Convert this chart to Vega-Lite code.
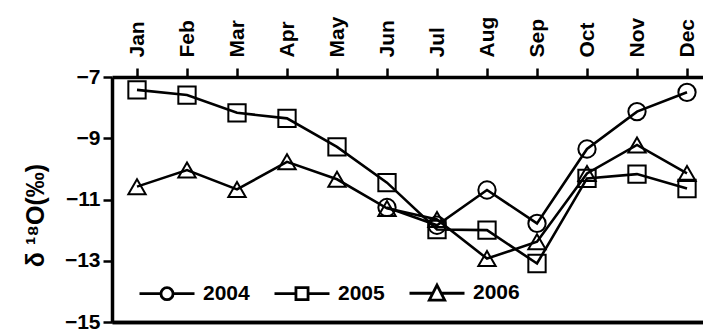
{
  "$schema": "https://vega.github.io/schema/vega-lite/v6.json",
  "width": 591,
  "height": 245,
  "autosize": "none",
  "padding": {"left": 112, "top": 77, "right": 0, "bottom": 7},
  "background": "white",
  "config": {
    "view": {"stroke": null},
    "font": "Liberation Sans",
    "axis": {
      "labelFont": "Liberation Sans",
      "labelFontWeight": "bold",
      "labelColor": "black",
      "titleColor": "black",
      "domainColor": "black",
      "tickColor": "black",
      "grid": false
    }
  },
  "data": {
    "values": [
      {"year": 2004, "month": "Jun", "d18O": -11.26},
      {"year": 2004, "month": "Jul", "d18O": -11.84},
      {"year": 2004, "month": "Aug", "d18O": -10.69},
      {"year": 2004, "month": "Sep", "d18O": -11.78},
      {"year": 2004, "month": "Oct", "d18O": -9.35},
      {"year": 2004, "month": "Nov", "d18O": -8.13},
      {"year": 2004, "month": "Dec", "d18O": -7.5},
      {"year": 2005, "month": "Jan", "d18O": -7.42},
      {"year": 2005, "month": "Feb", "d18O": -7.59},
      {"year": 2005, "month": "Mar", "d18O": -8.17},
      {"year": 2005, "month": "Apr", "d18O": -8.35},
      {"year": 2005, "month": "May", "d18O": -9.28},
      {"year": 2005, "month": "Jun", "d18O": -10.45},
      {"year": 2005, "month": "Jul", "d18O": -11.98},
      {"year": 2005, "month": "Aug", "d18O": -12.0},
      {"year": 2005, "month": "Sep", "d18O": -13.09},
      {"year": 2005, "month": "Oct", "d18O": -10.31},
      {"year": 2005, "month": "Nov", "d18O": -10.17},
      {"year": 2005, "month": "Dec", "d18O": -10.64},
      {"year": 2006, "month": "Jan", "d18O": -10.58},
      {"year": 2006, "month": "Feb", "d18O": -10.04},
      {"year": 2006, "month": "Mar", "d18O": -10.67},
      {"year": 2006, "month": "Apr", "d18O": -9.77},
      {"year": 2006, "month": "May", "d18O": -10.34},
      {"year": 2006, "month": "Jun", "d18O": -11.29},
      {"year": 2006, "month": "Jul", "d18O": -11.65},
      {"year": 2006, "month": "Aug", "d18O": -12.93},
      {"year": 2006, "month": "Sep", "d18O": -12.38},
      {"year": 2006, "month": "Oct", "d18O": -10.15},
      {"year": 2006, "month": "Nov", "d18O": -9.22},
      {"year": 2006, "month": "Dec", "d18O": -10.15}
    ]
  },
  "resolve": {"scale": {"shape": "independent"}},
  "layer": [
    {
      "mark": {"type": "line", "color": "black", "strokeWidth": 2.6},
      "encoding": {
        "x": {
          "field": "month", "type": "ordinal",
          "sort": ["Jan","Feb","Mar","Apr","May","Jun","Jul","Aug","Sep","Oct","Nov","Dec"],
          "scale": {"range": [0, 600], "paddingInner": 0, "paddingOuter": 0},
          "axis": {"orient": "bottom", "title": null, "labels": false, "ticks": false, "domainWidth": 3.5}
        },
        "y": {
          "field": "d18O", "type": "quantitative",
          "scale": {"domain": [-15, -7], "nice": false, "zero": false},
          "axis": {
            "orient": "left",
            "values": [-15, -13, -11, -9, -7],
            "tickSize": 9,
            "tickWidth": 2.5,
            "domainWidth": 3.5,
            "labelFontSize": 21,
            "labelPadding": 3,
            "title": "δ ¹⁸O(‰)",
            "titleFont": "Liberation Sans",
            "titleFontWeight": "bold",
            "titleFontSize": 25,
            "titleAngle": -90,
            "titleAlign": "center",
            "titleBaseline": "middle",
            "titleX": -77,
            "titleY": 138
          }
        },
        "detail": {"field": "year", "type": "nominal"}
      }
    },
    {
      "mark": {"type": "point", "filled": false, "color": "black", "strokeWidth": 2, "size": 300, "opacity": 1},
      "encoding": {
        "x": {
          "field": "month", "type": "ordinal",
          "sort": ["Jan","Feb","Mar","Apr","May","Jun","Jul","Aug","Sep","Oct","Nov","Dec"],
          "axis": {
            "orient": "top",
            "title": null,
            "labelAngle": -90,
            "labelAlign": "left",
            "labelBaseline": "middle",
            "labelFontSize": 21,
            "labelPadding": 11,
            "bandPosition": 0,
            "tickSize": 9,
            "tickWidth": 2.5,
            "domainWidth": 3.5
          }
        },
        "y": {"field": "d18O", "type": "quantitative"},
        "shape": {
          "field": "year", "type": "nominal",
          "scale": {"range": ["circle", "square", "triangle-up"]},
          "legend": null
        }
      }
    },
    {
      "mark": {"type": "point", "filled": false, "color": "black", "strokeWidth": 2.5, "size": 0, "opacity": 1},
      "encoding": {
        "x": {
          "field": "month", "type": "ordinal",
          "sort": ["Jan","Feb","Mar","Apr","May","Jun","Jul","Aug","Sep","Oct","Nov","Dec"],
          "axis": {"orient": "bottom", "title": null, "labels": false, "ticks": false, "domainWidth": 3.5}
        },
        "y": {"field": "d18O", "type": "quantitative"},
        "shape": {
          "field": "year", "type": "nominal",
          "scale": {"range": [
            "M-1,0H-0.22M0.22,0H1M-0.22,0A0.22,0.22,0,1,1,0.22,0A0.22,0.22,0,1,1,-0.22,0",
            "M-1,0H-0.22M0.22,0H1M-0.22,-0.22H0.22V0.22H-0.22Z",
            "M-1,0H-0.15M0.15,0H1M0,-0.3L0.28,0.25H-0.28Z"
          ]},
          "legend": {
            "orient": "none",
            "legendX": 26,
            "legendY": 187,
            "direction": "horizontal",
            "columns": 3,
            "title": null,
            "padding": 0,
            "symbolSize": 3025,
            "symbolStrokeWidth": 2.8,
            "symbolStrokeColor": "black",
            "symbolFillColor": "transparent",
            "symbolOpacity": 1,
            "labelFont": "Liberation Sans",
            "labelFontSize": 21,
            "labelFontWeight": "bold",
            "labelColor": "black",
            "labelOffset": 7,
            "columnPadding": 18
          }
        }
      }
    }
  ]
}
